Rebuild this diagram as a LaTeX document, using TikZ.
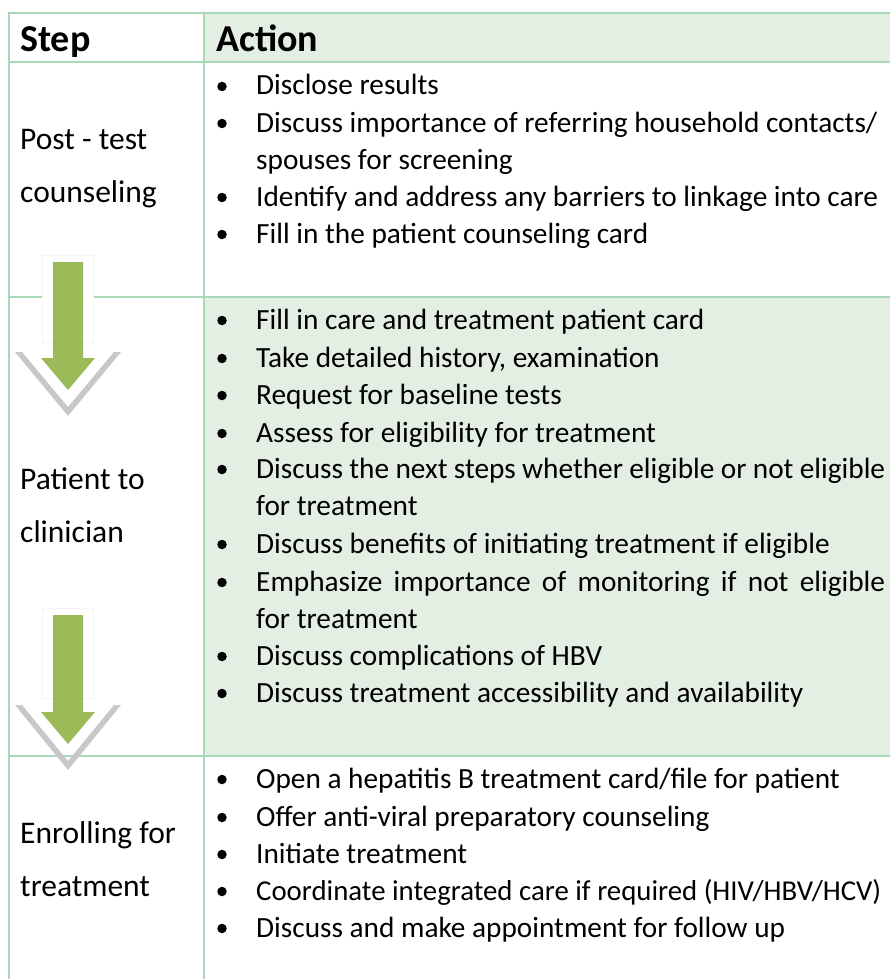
\documentclass[tikz,border=0pt]{standalone}
\usepackage{fontspec}
\setmainfont{Carlito}
\definecolor{bord}{HTML}{A8D8B8}
\definecolor{lgreen}{HTML}{E2EFE2}
\definecolor{agreen}{HTML}{9BBB59}
\definecolor{chev}{HTML}{C8C8C8}
\tikzset{
  body/.style={anchor=base west, inner sep=0pt, font=\fontsize{29.3}{34}\selectfont},
  bul/.style={circle, fill=black, inner sep=0pt, minimum size=9.5pt},
  steptxt/.style={anchor=base west, inner sep=0pt, font=\fontsize{31.5}{36}\selectfont},
  headtxt/.style={anchor=base west, inner sep=0pt, font=\fontsize{38}{42}\selectfont\bfseries},
  gridline/.style={draw=bord, line width=2.5pt},
  chevronshape/.style={fill=chev},
  arrowshape/.style={fill=agreen},
  arrowbg/.style={fill=white, draw=black!4, line width=0.6pt},
}
\newcommand{\itm}[3]{\node[bul] (b#1) at (222,#2-8.5) {};\node[body] (t#1) at (256,#2) {#3};}
\newcommand{\cont}[3]{\node[body] (t#1) at (256,#2) {#3};}
\begin{document}
\begin{tikzpicture}[x=1pt,y=-1pt]
\useasboundingbox (0,0) rectangle (890,979);
% fills
\fill[lgreen] (204,13) rectangle (890,62);
\fill[lgreen] (204,297) rectangle (890,756);
% grid
\draw[gridline] (890,13) -- (9,13) -- (9,979);
\draw[gridline] (204,13) -- (204,979);
\draw[gridline] (9,62) -- (890,62);
\draw[gridline] (9,297) -- (890,297);
\draw[gridline] (9,756) -- (890,756);
% header
\node[headtxt] (hstep) at (20,52) {Step};
\node[headtxt] (hact) at (216,52) {Action};
% step column
\node[steptxt] (s1a) at (20,149) {Post - test};
\node[steptxt] (s1b) at (20,202) {counseling};
\node[steptxt] (s2a) at (20,489) {Patient to};
\node[steptxt] (s2b) at (20,542) {clinician};
\node[steptxt] (s3a) at (20,843) {Enrolling for};
\node[steptxt] (s3b) at (20,896) {treatment};
% row 1
\itm{1}{95}{Disclose results}
\itm{2}{132}{Discuss importance of referring household contacts/}
\cont{3}{169}{spouses for screening}
\itm{4}{206}{Identify and address any barriers to linkage into care}
\itm{5}{243}{Fill in the patient counseling card}
% row 2
\itm{6}{329}{Fill in care and treatment patient card}
\itm{7}{367}{Take detailed history, examination}
\itm{8}{404}{Request for baseline tests}
\itm{9}{442}{Assess for eligibility for treatment}
\itm{10}{478}{\makebox[629pt][s]{Discuss the next steps whether eligible or not eligible}}
\cont{11}{515}{for treatment}
\itm{12}{553}{Discuss benefits of initiating treatment if eligible}
\itm{13}{591}{\makebox[629pt][s]{Emphasize importance of monitoring if not eligible}}
\cont{14}{628}{for treatment}
\itm{15}{665}{Discuss complications of HBV}
\itm{16}{702}{Discuss treatment accessibility and availability}
% row 3
\itm{17}{788}{Open a hepatitis B treatment card/file for patient}
\itm{18}{826}{Offer anti-viral preparatory counseling}
\itm{19}{863}{Initiate treatment}
\itm{20}{900}{\fontsize{28.8}{34}\selectfont Coordinate integrated care if required (HIV/HBV/HCV)}
\itm{21}{937}{Discuss and make appointment for follow up}
% arrows
\draw[arrowbg] (42,255) rectangle (93,343);
\fill[chevronshape] (15,352) -- (68,416) -- (121,352) -- (114,352) -- (68,407) -- (22,352) -- cycle;
\fill[arrowshape] (53,262) -- (83,262) -- (83,358) -- (95,358) -- (68,390) -- (41,358) -- (53,358) -- cycle;
\draw[arrowbg] (42,608) rectangle (93,698);
\fill[chevronshape] (15,705) -- (68,770) -- (121,705) -- (114,705) -- (68,761) -- (22,705) -- cycle;
\fill[arrowshape] (53,615) -- (83,615) -- (83,712) -- (95,712) -- (68,744) -- (41,712) -- (53,712) -- cycle;
\end{tikzpicture}
\end{document}
